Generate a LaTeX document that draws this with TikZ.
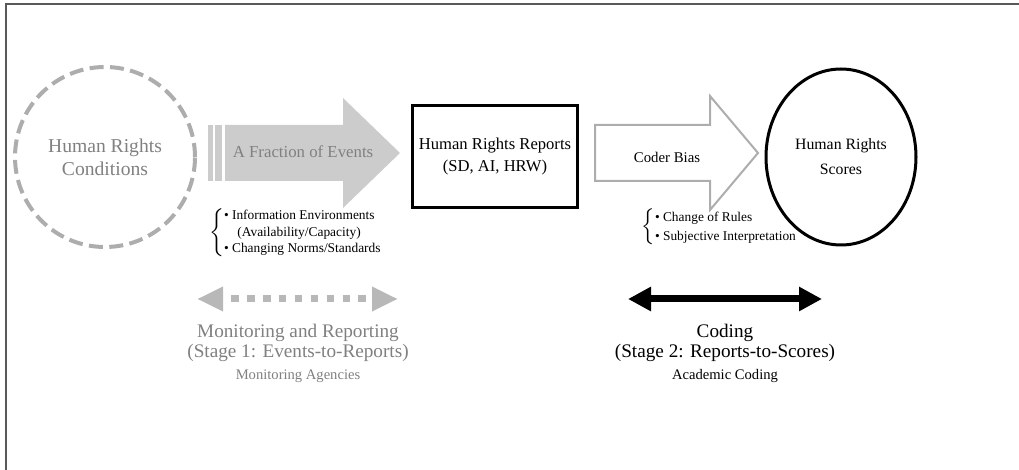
\documentclass[tikz,border=0pt]{standalone}
\usepackage{fontspec}
\setmainfont{Liberation Serif}
\usetikzlibrary{positioning,arrows.meta,shapes.geometric}
\definecolor{paleGray}{gray}{0.80}
\definecolor{dotGray}{gray}{0.72}
\definecolor{ringGray}{gray}{0.68}
\definecolor{textGray}{gray}{0.50}
\definecolor{frameGray}{gray}{0.35}

\begin{document}
\begin{tikzpicture}[x=0.5pt,y=-0.5pt,
    condition/.style={circle,draw=ringGray,line width=2pt,dash pattern=on 7pt off 3.2pt,
      minimum size=90pt,inner sep=0pt,text=textGray,align=center,font=\fontsize{9.8}{11.5}\selectfont},
    report/.style={draw,line width=1.5pt,minimum width=82pt,minimum height=51pt,
      align=center,font=\fontsize{8.3}{11}\selectfont},
    score/.style={ellipse,draw,line width=1.5pt,minimum width=75pt,minimum height=88pt,
      inner sep=0pt,align=center,font=\fontsize{7.9}{12.5}\selectfont},
    stagetext/.style={align=center,font=\fontsize{9.6}{10}\selectfont},
    actor/.style={font=\fontsize{7.3}{9}\selectfont},
    monitor/.style={dotGray,line width=3.5pt,dash pattern=on 3.75pt off 4.2pt,dash phase=3pt,
      {Triangle[length=13pt,width=11.5pt]}-{Triangle[length=13pt,width=11.5pt]}},
    coding/.style={black,line width=3.5pt,
      {Triangle[length=11.5pt,width=11.5pt]}-{Triangle[length=11.5pt,width=11.5pt]}}]

    \useasboundingbox (0,0) rectangle (1019,470);

    % Frame
    \draw[frameGray,line width=1pt] (6,470) -- (6,4) -- (1019,4);

    % Nodes
    \node[condition] (cond) at (105,157) {Human Rights\\Conditions};
    \node[report] (reports) at (495,157) {Human Rights Reports\\(SD, AI, HRW)};
    \node[score] (scores) at (841,157) {Human Rights\\Scores};

    % Block arrows
    \fill[paleGray] (208,125) rectangle (213,181);
    \fill[paleGray] (215,125) rectangle (222,181);
    \fill[paleGray] (225,125) -- (343,125) -- (343,98) -- (400,153)
      -- (343,208) -- (343,181) -- (225,181) -- cycle;
    \node[text=textGray,font=\fontsize{8.4}{10}\selectfont] (fraction) at (303,152) {A Fraction of Events};

    \draw[ringGray,line width=1pt] (595,125) -- (710,125) -- (710,96) -- (758,153)
      -- (710,210) -- (710,181) -- (595,181) -- cycle;
    \node[font=\fontsize{7.4}{9}\selectfont] (bias) at (667,157) {Coder Bias};

    % Braces
    \node[font=\fontsize{6.7}{8.2}\selectfont] (factors) at (296,233)
      {$\left\{\begin{tabular}{@{}l@{}}• Information Environments\\\quad(Availability/Capacity)\\• Changing Norms/Standards\end{tabular}\right.$};
    \node[font=\fontsize{6.7}{9.5}\selectfont] (biases) at (720,227)
      {$\left\{\begin{tabular}{@{}l@{}}• Change of Rules\\• Subjective Interpretation\end{tabular}\right.$};

    % Stage arrows
    \coordinate (s1l) at (197,299);
    \coordinate (s1r) at (398,299);
    \coordinate (s2l) at (628,299);
    \coordinate (s2r) at (822,299);
    \draw[monitor] (s1l) -- (s1r);
    \draw[coding] (s2l) -- (s2r);

    % Stage labels
    \node[stagetext,text=textGray] (stage1) at (298,343) {Monitoring and Reporting\\(Stage 1: Events-to-Reports)};
    \node[actor,text=textGray] (agency) at (298,376) {Monitoring Agencies};
    \node[stagetext] (stage2) at (725,343) {Coding\\(Stage 2: Reports-to-Scores)};
    \node[actor] (academic) at (725,376) {Academic Coding};
  \end{tikzpicture}
\end{document}
